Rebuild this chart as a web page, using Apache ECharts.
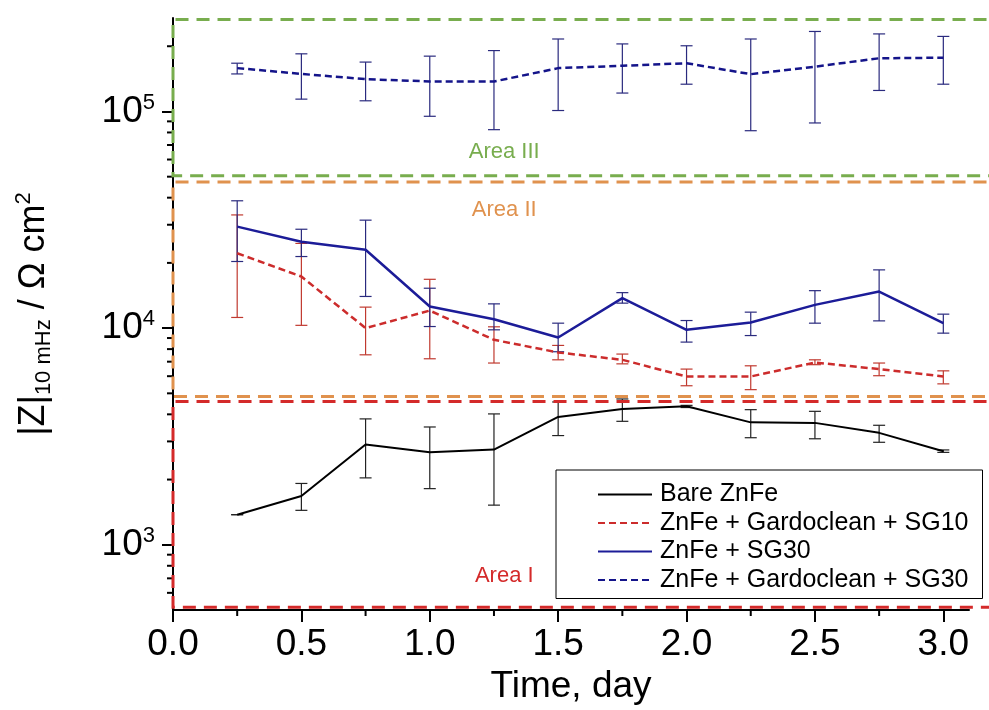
<!DOCTYPE html>
<html lang="en">
<head>
    <meta charset="UTF-8">
    <title>|Z| 10 mHz vs time</title>
    <script src="https://cdn.jsdelivr.net/npm/echarts@6/dist/echarts.min.js"></script>
    <style>
        body { margin: 0; background: #fff; }
        #main { width: 989px; height: 710px; }
    </style>
</head>
<body>
<div id="main"></div>
<script>
    // time axis, days
    var days = [0.25, 0.5, 0.75, 1.0, 1.25, 1.5, 1.75, 2.0, 2.25, 2.5, 2.75, 3.0];

    // |Z| at 10 mHz, ohm cm2 (value, lower and upper end of the error bar)
    var bare     = [1377, 1678, 2903, 2675, 2752, 3890, 4236, 4355, 3673, 3653, 3286, 2704];
    var bareLow  = [1377, 1442, 2036, 1816, 1524, 3192, 3714, 4300, 3120, 3085, 2972, 2670];
    var bareHigh = [1377, 1919, 3811, 3497, 4018, 4562, 4710, 4400, 4204, 4130, 3561, 2740];

    var gcSG10     = [22160, 17300, 10000, 12050, 8830, 7720, 7140, 5980, 5980, 6940, 6470, 5980];
    var gcSG10Low  = [11200, 10300, 7530, 7220, 6900, 7140, 6840, 5420, 5200, 6780, 6030, 5530];
    var gcSG10High = [33300, 24600, 12500, 16800, 10140, 8320, 7590, 6470, 6700, 7140, 6900, 6350];

    var sg30     = [29400, 25050, 23000, 12580, 10980, 9050, 13750, 9820, 10610, 12800, 14750, 10540];
    var sg30Low  = [20300, 21400, 14000, 10170, 9820, 7780, 13040, 8620, 9240, 10540, 10800, 9480];
    var sg30High = [38700, 28600, 31500, 15280, 12940, 10540, 14580, 10840, 11850, 14890, 18570, 11600];

    var gcSG30     = [158500, 149000, 141000, 137500, 137500, 158500, 162500, 167000, 148600, 161000, 176000, 177000];
    var gcSG30Low  = [149000, 114000, 112000, 95000, 82400, 101000, 121600, 133600, 81500, 88500, 125000, 133600];
    var gcSG30High = [167000, 184500, 169000, 180000, 191000, 216000, 205000, 201000, 216000, 234000, 228000, 222000];

    var seriesNames = ['Bare ZnFe', 'ZnFe + Gardoclean + SG10', 'ZnFe + SG30', 'ZnFe + Gardoclean + SG30'];

    // areas: name, left/right day, bottom/top |Z|, label position
    var areaNames  = ['Area III', 'Area II', 'Area I'];
    var areaLeft   = [0, 0, 0];
    var areaRight  = [3.25, 3.25, 3.25];
    var areaBottom = [50500, 4830, 515];
    var areaTop    = [266000, 47200, 4580];
    var areaLabelX = [1.29, 1.29, 1.29];
    var areaLabelY = [65000, 35000, 720];

    // ticks
    var xMajor = [0, 0.5, 1.0, 1.5, 2.0, 2.5, 3.0];
    var xMinor = [0.25, 0.75, 1.25, 1.75, 2.25, 2.75];
    var yMajor = [1000, 10000, 100000];
    var yMinor = [600, 700, 800, 900, 2000, 3000, 4000, 5000, 6000, 7000, 8000, 9000,
                  20000, 30000, 40000, 50000, 60000, 70000, 80000, 90000, 200000];

    var font = "'Liberation Sans', Arial, sans-serif";
    var areaColors = ['#78ad4e', '#e0924e', '#d42a2a'];

    function pairs(y) {
        return days.map(function (d, i) { return [d, y[i]]; });
    }
    function triples(lo, hi) {
        return days.map(function (d, i) { return [d, lo[i], hi[i]]; });
    }

    function errBars(color, z) {
        return {
            type: 'custom',
            coordinateSystem: 'cartesian2d',
            silent: true,
            z: z,
            encode: { x: 0, y: [1, 2] },
            renderItem: function (params, api) {
                var x = api.value(0);
                var a = api.coord([x, api.value(2)]);
                var b = api.coord([x, api.value(1)]);
                var w = 6;
                var st = { stroke: color, lineWidth: 1.2 };
                return {
                    type: 'group',
                    children: [
                        { type: 'line', shape: { x1: a[0], y1: a[1], x2: b[0], y2: b[1] }, style: st },
                        { type: 'line', shape: { x1: a[0] - w, y1: a[1], x2: a[0] + w, y2: a[1] }, style: st },
                        { type: 'line', shape: { x1: b[0] - w, y1: b[1], x2: b[0] + w, y2: b[1] }, style: st }
                    ]
                };
            },
            data: []
        };
    }

    var myChart = echarts.init(document.getElementById('main'));

    var e1 = errBars('#222', 3); e1.data = triples(bareLow, bareHigh);
    var e2 = errBars('#c0392f', 3); e2.data = triples(gcSG10Low, gcSG10High);
    var e3 = errBars('#2a2a7e', 3); e3.data = triples(sg30Low, sg30High);
    var e4 = errBars('#2a2a7e', 3); e4.data = triples(gcSG30Low, gcSG30High);

    var option = {
        animation: false,
        backgroundColor: '#fff',
        grid: { left: 173, right: 20, top: 18, bottom: 98, containLabel: false },
        legend: {
            data: seriesNames,
            orient: 'vertical',
            left: 556,
            top: 470,
            z: 10,
            backgroundColor: '#fff',
            borderColor: '#000',
            borderWidth: 1,
            borderRadius: 0,
            padding: [12, 14, 6, 41],
            itemGap: 3.5,
            itemWidth: 54,
            itemHeight: 14,
            itemStyle: { opacity: 0 },
            textStyle: { fontSize: 25, lineHeight: 25, color: '#000', fontFamily: font, padding: [0, 0, 0, 3] }
        },
        xAxis: {
            type: 'value',
            min: 0,
            max: 3.1,
            interval: 0.5,
            name: 'Time, day',
            nameLocation: 'middle',
            nameGap: 58,
            nameTextStyle: { fontSize: 37, color: '#000', fontFamily: font },
            axisLine: { onZero: false, lineStyle: { color: '#000', width: 2 } },
            axisTick: { customValues: xMajor, length: 12, lineStyle: { color: '#000', width: 2 } },
            axisLabel: {
                customValues: xMajor,
                margin: 16,
                fontSize: 37,
                color: '#000',
                fontFamily: font,
                formatter: function (v) { return v.toFixed(1); }
            },
            splitLine: { show: false }
        },
        yAxis: {
            type: 'log',
            logBase: 10,
            min: 500,
            max: 270000,
            name: '{a||Z|}{s|10 mHz}{a| / Ω cm}{p|2}',
            nameLocation: 'middle',
            nameRotate: 90,
            nameGap: 118,
            nameTextStyle: {
                color: '#000',
                rich: {
                    a: { fontSize: 36, lineHeight: 42, fontFamily: font, color: '#000' },
                    s: { fontSize: 22, lineHeight: 22, fontFamily: font, color: '#000', verticalAlign: 'bottom' },
                    p: { fontSize: 22, lineHeight: 22, fontFamily: font, color: '#000', verticalAlign: 'top' }
                }
            },
            axisLine: { lineStyle: { color: '#000', width: 2 } },
            axisTick: { customValues: yMajor, length: 11, lineStyle: { color: '#000', width: 2 } },
            axisLabel: {
                customValues: yMajor,
                margin: 18,
                formatter: function (v) {
                    return '{b|10}{s|' + Math.round(Math.log10(v)) + '}';
                },
                rich: {
                    b: { fontSize: 37, lineHeight: 40, color: '#000', fontFamily: font },
                    s: { fontSize: 22, lineHeight: 22, color: '#000', fontFamily: font, verticalAlign: 'top' }
                }
            },
            splitLine: { show: false }
        },
        series: [
            {
                name: seriesNames[0],
                type: 'line',
                data: pairs(bare),
                symbol: 'none',
                z: 4,
                lineStyle: { color: '#000', width: 2 },
                itemStyle: { color: '#000' }
            },
            {
                name: seriesNames[1],
                type: 'line',
                data: pairs(gcSG10),
                symbol: 'none',
                z: 4,
                lineStyle: { color: '#cc2c2c', width: 2.5, type: [7, 4] },
                itemStyle: { color: '#cc2c2c' }
            },
            {
                name: seriesNames[2],
                type: 'line',
                data: pairs(sg30),
                symbol: 'none',
                z: 4,
                lineStyle: { color: '#1c1c98', width: 2.5 },
                itemStyle: { color: '#1c1c98' }
            },
            {
                name: seriesNames[3],
                type: 'line',
                data: pairs(gcSG30),
                symbol: 'none',
                z: 4,
                lineStyle: { color: '#14148a', width: 2.5, type: [7, 4] },
                itemStyle: { color: '#14148a' }
            },
            e1, e2, e3, e4,
            {
                // dashed area frames + their labels
                type: 'custom',
                coordinateSystem: 'cartesian2d',
                silent: true,
                clip: false,
                z: 5,
                encode: { x: [0, 1], y: [2, 3] },
                renderItem: function (params, api) {
                    var i = params.dataIndex;
                    var c = areaColors[i];
                    var tl = api.coord([api.value(0), api.value(3)]);
                    var tr = api.coord([api.value(1), api.value(3)]);
                    var bl = api.coord([api.value(0), api.value(2)]);
                    var br = api.coord([api.value(1), api.value(2)]);
                    var lp = api.coord([api.value(4), api.value(5)]);
                    return {
                        type: 'group',
                        children: [
                            {
                                type: 'polyline',
                                shape: { points: [tr, tl, bl, br] },
                                style: { stroke: c, lineWidth: 3, lineDash: [13, 8], fill: null }
                            },
                            {
                                type: 'text',
                                x: lp[0], y: lp[1],
                                style: {
                                    text: areaNames[i], fill: c, fontSize: 22, fontFamily: font,
                                    align: 'center', verticalAlign: 'middle'
                                }
                            }
                        ]
                    };
                },
                data: areaNames.map(function (n, i) {
                    return [areaLeft[i], areaRight[i], areaBottom[i], areaTop[i], areaLabelX[i], areaLabelY[i]];
                })
            },
            {
                // minor ticks on the x axis
                type: 'custom',
                coordinateSystem: 'cartesian2d',
                silent: true,
                clip: false,
                z: 3,
                renderItem: function (params, api) {
                    var p = api.coord([api.value(0), 500]);
                    return { type: 'line', shape: { x1: p[0], y1: p[1], x2: p[0], y2: p[1] + 6 },
                             style: { stroke: '#000', lineWidth: 2 } };
                },
                data: xMinor.map(function (v) { return [v, 500]; })
            },
            {
                // minor ticks on the log y axis
                type: 'custom',
                coordinateSystem: 'cartesian2d',
                silent: true,
                clip: false,
                z: 3,
                renderItem: function (params, api) {
                    var p = api.coord([0, api.value(1)]);
                    return { type: 'line', shape: { x1: p[0] - 6, y1: p[1], x2: p[0], y2: p[1] },
                             style: { stroke: '#000', lineWidth: 2 } };
                },
                data: yMinor.map(function (v) { return [0, v]; })
            }
        ]
    };

    myChart.setOption(option);
</script>
</body>
</html>
